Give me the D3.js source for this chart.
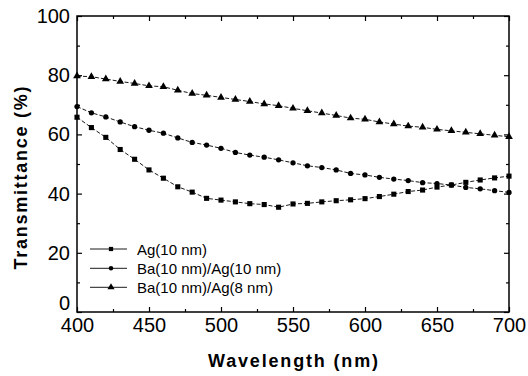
<!DOCTYPE html>
<html>
<head>
<meta charset="utf-8">
<script src="https://cdn.jsdelivr.net/npm/d3@7"></script>
<style>
  body { margin: 0; background: #fff; }
  text { font-family: "Liberation Sans", Arial, sans-serif; fill: #000; }
</style>
</head>
<body>
<div id="chart"></div>
<script>
// wavelength (nm)
const wavelength = [400, 410, 420, 430, 440, 450, 460, 470, 480, 490, 500,
  510, 520, 530, 540, 550, 560, 570, 580, 590, 600,
  610, 620, 630, 640, 650, 660, 670, 680, 690, 700]

// transmittance (%)
const ag10 = [65.8, 62.3, 59.0, 54.9, 51.6, 48.0, 45.2, 42.3, 40.5, 38.4, 37.8,
  37.2, 36.6, 36.3, 35.4, 36.5, 36.7, 37.2, 37.6, 37.9, 38.3,
  39.0, 39.8, 40.7, 41.2, 42.2, 42.9, 43.8, 44.6, 45.3, 45.9]
const ba10ag10 = [69.4, 67.3, 65.9, 64.2, 62.6, 61.4, 60.4, 58.8, 57.3, 56.4, 55.3,
  53.9, 53.0, 52.3, 51.4, 50.4, 49.4, 48.8, 48.0, 46.8, 46.3,
  45.5, 44.9, 44.4, 43.7, 43.4, 42.9, 42.1, 41.6, 41.0, 40.4]
const ba10ag8 = [79.7, 79.5, 78.7, 77.9, 77.2, 76.4, 76.1, 74.9, 73.8, 73.2, 72.5,
  71.8, 71.1, 70.3, 69.7, 68.8, 68.0, 67.2, 66.4, 65.5, 65.1,
  64.2, 63.5, 62.8, 62.4, 61.7, 61.2, 60.7, 60.2, 59.7, 59.2]

const seriesNames = ["Ag(10 nm)", "Ba(10 nm)/Ag(10 nm)", "Ba(10 nm)/Ag(8 nm)"]
const seriesValues = [ag10, ba10ag10, ba10ag8]

const xTicks = [400, 450, 500, 550, 600, 650, 700]
const xMinor = [425, 475, 525, 575, 625, 675]
const yTicks = [0, 20, 40, 60, 80, 100]
const yMinor = [10, 30, 50, 70, 90]

const width = 528
const height = 376
const margin = { top: 16, right: 19, bottom: 64, left: 77 }
const iw = width - margin.left - margin.right
const ih = height - margin.top - margin.bottom

const x = d3.scaleLinear().domain([400, 700]).range([0, iw])
const y = d3.scaleLinear().domain([0, 100]).range([ih, 0])

const symbols = [d3.symbolSquare, d3.symbolCircle, d3.symbolTriangle]
const symSizes = [26, 22, 26]
const legendSizes = [18, 16, 22]

const svg = d3.select("#chart").append("svg")
    .attr("width", width)
    .attr("height", height)

const g = svg.append("g")
    .attr("transform", "translate(" + margin.left + "," + margin.top + ")")

// axes, ticks pointing inward
function styleAxis(sel) {
    sel.select(".domain").remove()
    sel.selectAll("line").attr("stroke", "#000").attr("stroke-width", 1.2)
    sel.selectAll("text").style("font-size", "20px")
}

g.append("g").attr("transform", "translate(0," + ih + ")")
    .call(d3.axisBottom(x).tickValues(xTicks).tickSize(-5).tickPadding(5.5).tickFormat(d3.format("d")))
    .call(styleAxis)
g.append("g").attr("transform", "translate(0," + ih + ")")
    .call(d3.axisBottom(x).tickValues(xMinor).tickSize(-3).tickFormat(""))
    .call(styleAxis)
g.append("g")
    .call(d3.axisTop(x).tickValues(xTicks).tickSize(-5).tickFormat(""))
    .call(styleAxis)
g.append("g")
    .call(d3.axisTop(x).tickValues(xMinor).tickSize(-3).tickFormat(""))
    .call(styleAxis)

g.append("g")
    .call(d3.axisLeft(y).tickValues(yTicks).tickSize(-5).tickPadding(7).tickFormat(d3.format("d")))
    .call(styleAxis)
    // the "0" sits higher so it clears the "400" below it
    .selectAll(".tick text").filter(function(d) { return d === 0 })
    .attr("dy", "-0.15em")
g.append("g")
    .call(d3.axisLeft(y).tickValues(yMinor).tickSize(-3).tickFormat(""))
    .call(styleAxis)
g.append("g").attr("transform", "translate(" + iw + ",0)")
    .call(d3.axisRight(y).tickValues(yTicks).tickSize(-5).tickFormat(""))
    .call(styleAxis)
g.append("g").attr("transform", "translate(" + iw + ",0)")
    .call(d3.axisRight(y).tickValues(yMinor).tickSize(-3).tickFormat(""))
    .call(styleAxis)

// frame
g.append("rect")
    .attr("width", iw)
    .attr("height", ih)
    .attr("fill", "none")
    .attr("stroke", "#000")
    .attr("stroke-width", 1.5)

// series
const line = d3.line()
    .x(function(d, i) { return x(wavelength[i]) })
    .y(function(d) { return y(d) })

seriesValues.forEach(function(vals, s) {
    g.append("path")
        .datum(vals)
        .attr("d", line)
        .attr("fill", "none")
        .attr("stroke", "#000")
        .attr("stroke-width", 0.9)
        .attr("stroke-dasharray", "4,2")

    g.selectAll(".m" + s)
        .data(vals)
        .enter().append("path")
        .attr("class", "m" + s)
        .attr("transform", function(d, i) { return "translate(" + x(wavelength[i]) + "," + y(d) + ")" })
        .attr("d", d3.symbol().type(symbols[s]).size(symSizes[s]))
        .attr("fill", "#000")
})

// legend
const legend = svg.append("g")
const legendY = [249, 268.3, 287.3]
seriesNames.forEach(function(name, s) {
    const row = legend.append("g").attr("transform", "translate(0," + legendY[s] + ")")
    row.append("line")
        .attr("x1", 90).attr("x2", 127)
        .attr("stroke", "#000").attr("stroke-width", 0.9)
    row.append("path")
        .attr("transform", "translate(111,0)")
        .attr("d", d3.symbol().type(symbols[s]).size(legendSizes[s]))
        .attr("fill", "#000")
    row.append("text")
        .attr("x", 137)
        .attr("y", 5.5)
        .style("font-size", "15px")
        .text(name)
})

// axis titles
svg.append("text")
    .attr("x", margin.left + iw / 2)
    .attr("y", 367)
    .attr("text-anchor", "middle")
    .style("font-size", "18px")
    .style("font-weight", "bold")
    .attr("textLength", 170)
    .attr("lengthAdjust", "spacing")
    .text("Wavelength (nm)")

svg.append("text")
    .attr("transform", "translate(26.5,178) rotate(-90)")
    .attr("text-anchor", "middle")
    .style("font-size", "18px")
    .style("font-weight", "bold")
    .attr("textLength", 183)
    .attr("lengthAdjust", "spacing")
    .text("Transmittance (%)")
</script>
</body>
</html>
